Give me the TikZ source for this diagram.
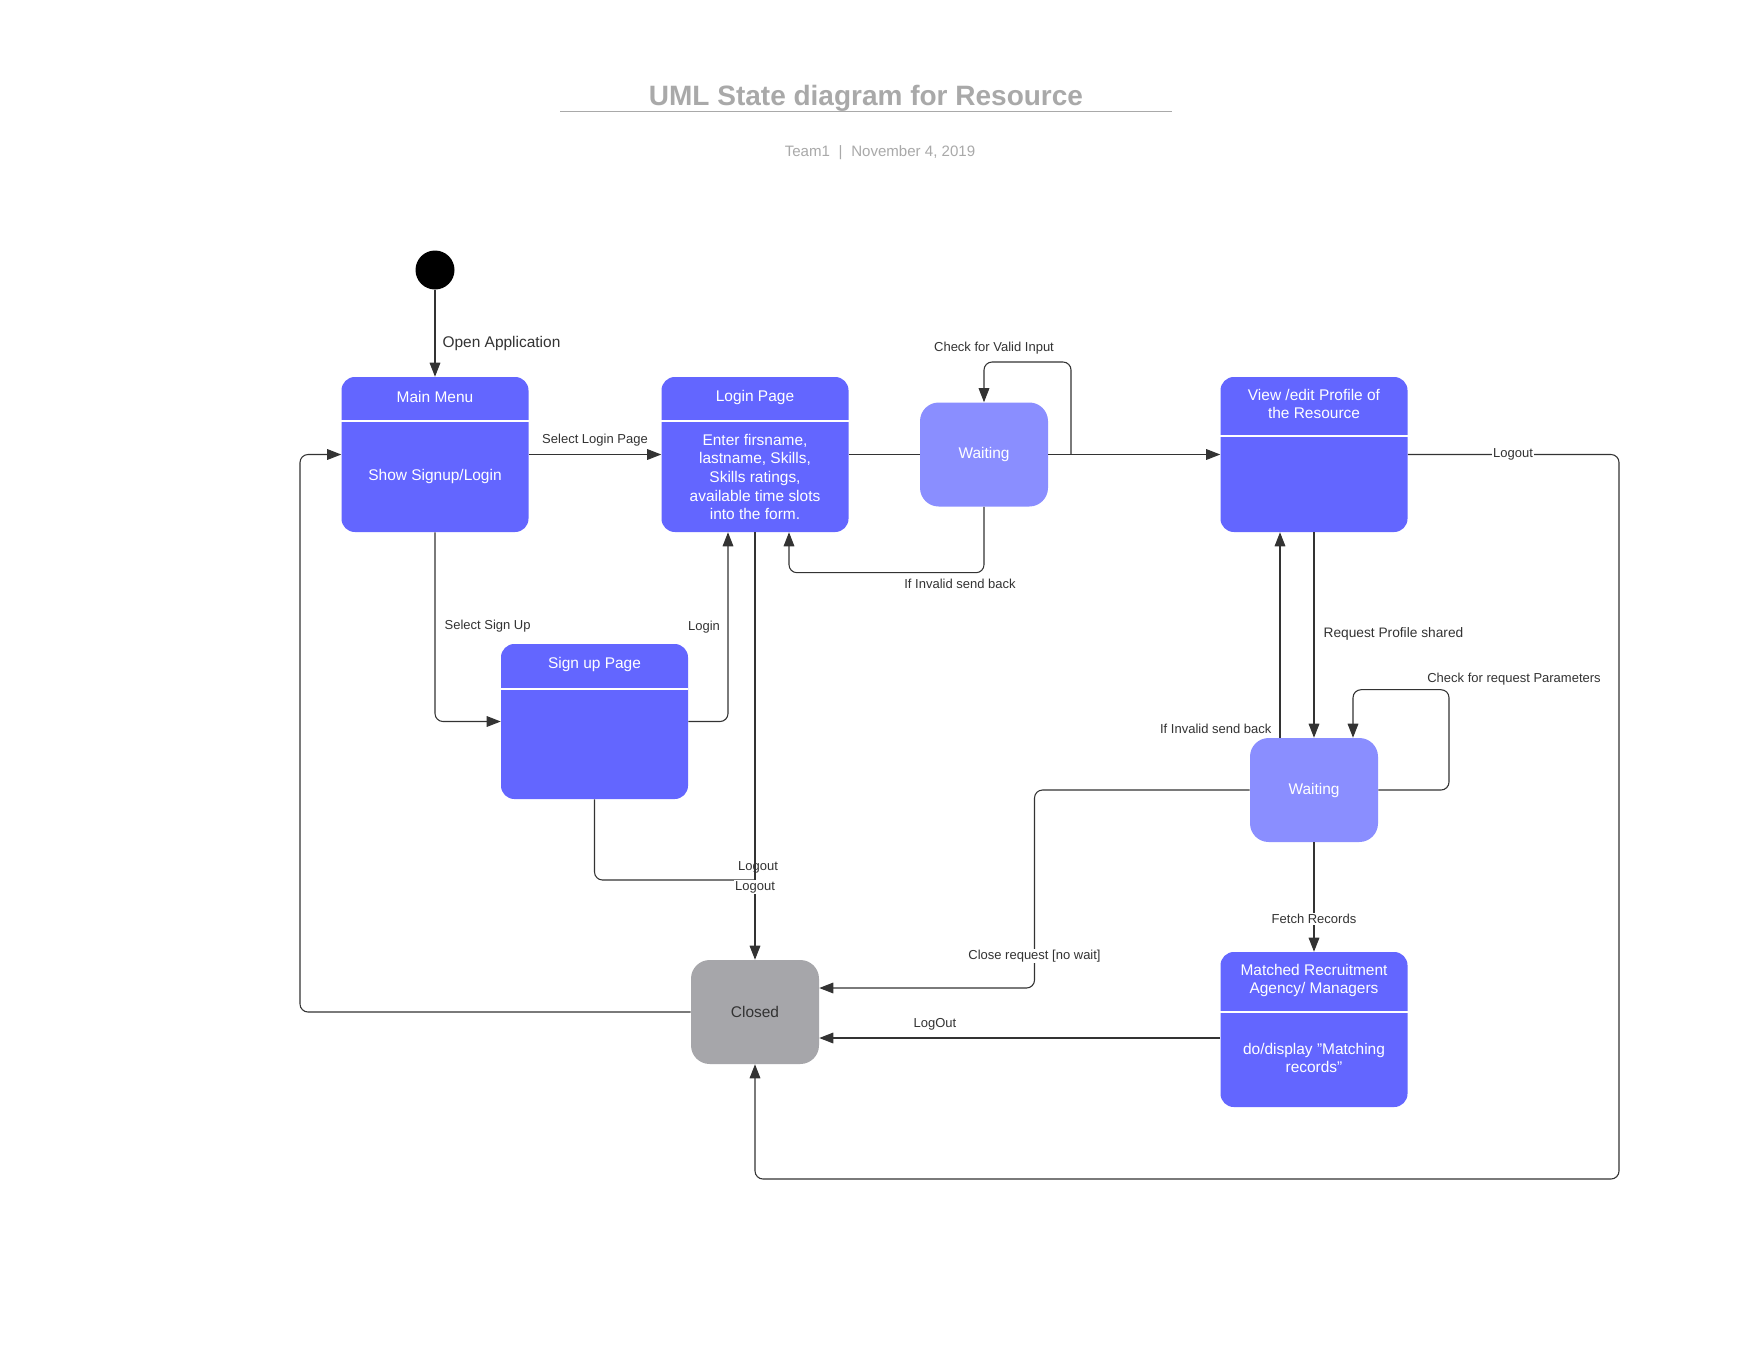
\documentclass[tikz,border=0pt]{standalone}
\usepackage{fontspec}
\setmainfont{Liberation Sans}
\usetikzlibrary{arrows.meta}
\definecolor{boxblue}{HTML}{6366FF}
\definecolor{waitblue}{HTML}{8A8EFF}
\definecolor{closedgray}{HTML}{A6A6AA}
\definecolor{linegray}{HTML}{333333}
\definecolor{titlegray}{HTML}{A9A9A9}
\begin{document}
\begin{tikzpicture}[x=0.75pt,y=-0.75pt,
  statebox/.style={fill=boxblue, rounded corners=10pt, minimum width=140.25pt, minimum height=116.25pt, inner sep=0pt},
  waitbox/.style={fill=waitblue, rounded corners=14pt, minimum width=96pt, minimum height=78pt, inner sep=0pt, text=white, font=\fontsize{11.6}{14}\selectfont},
  closedbox/.style={fill=closedgray, rounded corners=14pt, minimum width=96pt, minimum height=78pt, inner sep=0pt, text=linegray, font=\fontsize{11.6}{14}\selectfont},
  boxtext/.style={text=white, align=center, inner sep=0pt, font=\fontsize{11.6}{14}\selectfont},
  divider/.style={draw=white, line width=0.8pt},
  conn/.style={draw=linegray, line width=0.8pt, rounded corners=6pt, -{Triangle[length=10.5pt,width=8pt]}},
  plainline/.style={draw=linegray, line width=0.8pt, rounded corners=6pt},
  lbl/.style={text=linegray, inner sep=1pt, font=\fontsize{9.75}{11.7}\selectfont},
  lblbg/.style={lbl, fill=white}
]
\fill[white] (0,0) rectangle (1760,1360);
\useasboundingbox (0,0) rectangle (1760,1360);

% title
\node[anchor=base, text=titlegray, font=\fontsize{21}{25}\selectfont\bfseries] (title) at (866,105) {UML State diagram for Resource};
\draw[titlegray, line width=1.1pt] (560,111.5) -- (1172,111.5);
\node[anchor=base, text=titlegray, font=\fontsize{11.3}{13}\selectfont] (sub) at (880,156.5) {Team1\hspace{6.5pt}|\hspace{6.5pt}November 4, 2019};

% initial state
\node[circle, fill=black, minimum size=29.25pt, inner sep=0pt] (init) at (435,270) {};

% Main Menu
\node[statebox] (mm) at (435,454.5) {};
\node[boxtext] (mmt) at (435,397) {Main Menu};
\draw[divider] (mm.west |- 0,421) -- (mm.east |- 0,421);
\node[boxtext] (mmb) at (435,476) {Show Signup/Login};

% Login Page
\node[statebox] (login) at (755,454.5) {};
\node[boxtext] (logint) at (755,397) {Login Page};
\draw[divider] (login.west |- 0,421) -- (login.east |- 0,421);
\node[boxtext] (loginb) at (755,477) {Enter firsname,\\lastname, Skills,\\Skills ratings,\\available time slots\\into the form.};

% Waiting 1
\node[waitbox] (wait1) at (984,454.5) {Waiting};

% View/edit
\node[statebox] (view) at (1314,454.5) {};
\node[boxtext] (viewt) at (1314,404) {View /edit Profile of\\the Resource};
\draw[divider] (view.west |- 0,436) -- (view.east |- 0,436);

% Sign up
\node[statebox] (signup) at (594.5,721.5) {};
\node[boxtext] (signupt) at (594.5,664) {Sign up Page};
\draw[divider] (signup.west |- 0,689) -- (signup.east |- 0,689);

% Waiting 2
\node[waitbox] (wait2) at (1314,790) {Waiting};

% Closed
\node[closedbox] (closed) at (755,1012) {Closed};

% Matched
\node[statebox] (matched) at (1314,1029.5) {};
\node[boxtext] (matchedt) at (1314,980.5) {Matched Recruitment\\Agency/ Managers};
\draw[divider] (matched.west |- 0,1012) -- (matched.east |- 0,1012);
\node[boxtext] (matchedb) at (1314,1058) {do/display \char34Matching\\records\char34};

% connectors
\draw[conn] (init) -- (mm);
\node[lbl, anchor=west, font=\fontsize{11.6}{14}\selectfont] (l1) at (441,343) {Open Application};

\draw[conn] (mm) -- (login);
\node[lbl] (l2) at (595,440) {Select Login Page};

\draw[plainline] (login) -- (wait1);
\draw[conn] (wait1) -- (view);

\coordinate (cv) at (1071,454.5);
\draw[conn] (cv) -- (1071,362) -- (984,362) -- (wait1.north);
\node[lbl] (l3) at (994,348) {Check for Valid Input};

\draw[conn] (wait1.south) -- (984,572.7) -- (789,572.7) -- (login.south -| 789,0);
\node[lbl] (l4) at (960,584) {If Invalid send back};

\draw[conn] (mm.south) -- (mm.south |- signup.west) -- (signup.west);
\node[lbl, anchor=west] (l5) at (443,626) {Select Sign Up};

\draw[conn] (signup.east) -- (728,721.5) -- (login.south -| 728,0);
\node[lbl] (l6) at (704,627) {Login};

\coordinate (mrg) at (755,880);
\draw[plainline] (signup.south) -- (signup.south |- mrg) -- (mrg);
\node[lbl] (l7) at (758,867) {Logout};

\draw[conn] (login.south) -- (closed.north);
\node[lblbg] (l8) at (755,887) {Logout};

\draw[conn] (wait2.west) -- (1034.5,790) -- (1034.5,988) -- (closed.east |- 0,988);
\node[lblbg] (l9) at (1034.5,956) {Close request [no wait]};

\draw[conn] (wait2.east) -- (1449,790) -- (1449,689.7) -- (1353,689.7) -- (wait2.north -| 1353,0);
\node[lbl] (l10) at (1514,679) {Check for request Parameters};

\draw[conn] (view.south) -- (wait2.north);
\node[lbl, anchor=west, font=\fontsize{10.3}{12}\selectfont] (l11) at (1322,634) {Request Profile shared};

\draw[conn] (wait2.north -| 1280,0) -- (view.south -| 1280,0);
\node[lbl, anchor=east] (l12) at (1273,729) {If Invalid send back};

\draw[conn] (wait2.south) -- (matched.north);
\node[lblbg] (l13) at (1314,919) {Fetch Records};

\draw[conn] (matched.west |- 0,1038) -- (closed.east |- 0,1038);
\node[lbl] (l14) at (935,1024) {LogOut};

\draw[conn] (view.east) -- (1619,454.5) -- (1619,1179) -- (755,1179) -- (closed.south);
\node[lblbg] (l15) at (1513,454.5) {Logout};

\draw[conn] (closed.west) -- (300,1012) -- (300,454.5) -- (mm.west);
\end{tikzpicture}
\end{document}
